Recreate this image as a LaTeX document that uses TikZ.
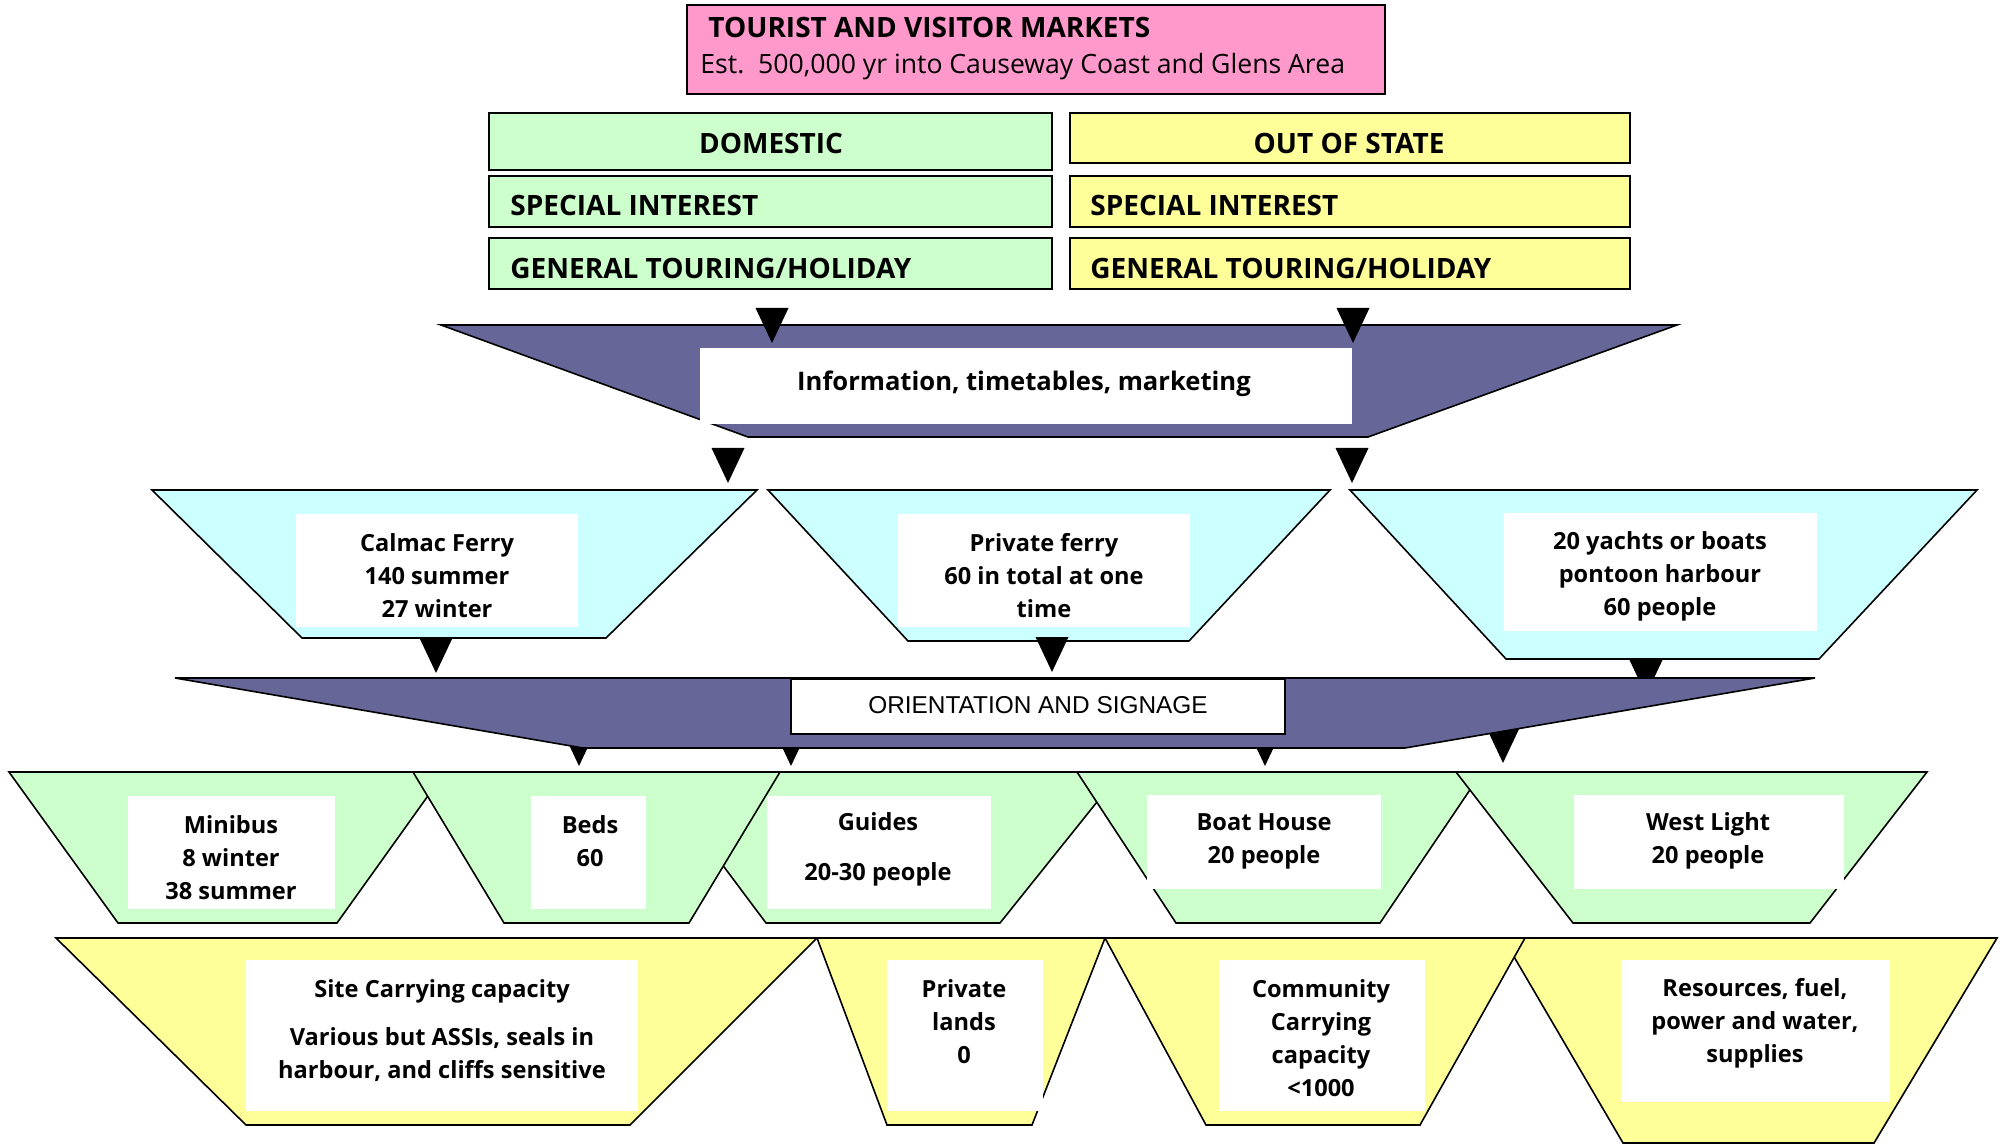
\documentclass[tikz,border=0pt]{standalone}
\usepackage{fontspec}
\setmainfont{Open Sans}
\newfontfamily\orifont{Liberation Sans}
\definecolor{pinkc}{HTML}{FF99CC}
\definecolor{greenc}{HTML}{CCFFCC}
\definecolor{yellowc}{HTML}{FFFF99}
\definecolor{cyanc}{HTML}{CCFFFF}
\definecolor{purplec}{HTML}{666699}
\newcommand\rectnode[6]{\node[#2, minimum width={(#5-#3)*0.5pt}, minimum height={(#6-#4)*0.5pt}, inner sep=0pt, outer sep=0pt] (#1) at ({(#3+#5)/2},{(#4+#6)/2}) {};}
\newcommand\tip[3]{\coordinate (#1) at (#2,#3); \fill[black] (#1) -- ++(-16.5,-35) -- ++(33,0) -- cycle;}
\begin{document}
\begin{tikzpicture}[x=0.5pt,y=-0.5pt,
 edge/.style={draw=black, line width=0.8pt, line join=miter},
 pinkbox/.style={edge, fill=pinkc},
 grnbox/.style={edge, fill=greenc},
 ylwbox/.style={edge, fill=yellowc},
 cyantrap/.style={edge, fill=cyanc},
 purtrap/.style={edge, fill=purplec},
 grntrap/.style={edge, fill=greenc},
 ylwtrap/.style={edge, fill=yellowc},
 wbox/.style={fill=white},
 obox/.style={fill=white, draw=black, line width=0.6pt},
 head/.style={font=\bfseries\fontsize{14}{17}\selectfont, inner sep=0pt},
 txt/.style={font=\bfseries\fontsize{11.8}{16.5}\selectfont, align=center, inner sep=0pt},
]
\fill[white] (0,0) rectangle (2002,1144);
\useasboundingbox (0,0) rectangle (2002,1144);

% ---- markets box
\rectnode{market}{pinkbox}{687}{5}{1385}{94}
\node[head, anchor=west] (mk1) at (708,27) {TOURIST AND VISITOR MARKETS};
\node[font=\fontsize{13.3}{16}\selectfont, inner sep=0pt, anchor=west] (mk2) at (700,67) {Est.\ \ 500,000 yr into Causeway Coast and Glens Area};

% ---- segment boxes
\rectnode{dom}{grnbox}{489}{113}{1052}{170}
\rectnode{oos}{ylwbox}{1070}{113}{1630}{163}
\rectnode{dsi}{grnbox}{489}{176}{1052}{227}
\rectnode{osi}{ylwbox}{1070}{176}{1630}{227}
\rectnode{dgt}{grnbox}{489}{238}{1052}{289}
\rectnode{ogt}{ylwbox}{1070}{238}{1630}{289}
\node[head] (domt) at (771,143) {DOMESTIC};
\node[head] (oost) at (1349,143) {OUT OF STATE};
\node[head, anchor=west] (dsit) at (510,206) {SPECIAL INTEREST};
\node[head, anchor=west] (osit) at (1090,206) {SPECIAL INTEREST};
\node[head, anchor=west] (dgtt) at (510,268) {GENERAL TOURING/HOLIDAY};
\node[head, anchor=west] (ogtt) at (1090,268) {GENERAL TOURING/HOLIDAY};

% ---- information funnel
\draw[purtrap] (441,325) -- (1677,325) -- (1368,437) -- (748,437) -- cycle;
\rectnode{info}{wbox}{700}{348}{1352}{424}
\node[txt, font=\bfseries\fontsize{12.8}{16}\selectfont] (infot) at (1024,384) {Information, timetables, marketing};
\tip{a1}{772}{343}
\tip{a2}{1353}{343}
\tip{a3}{728}{483}
\tip{a4}{1352}{483}

% ---- access funnels
\tip{a7}{1646}{695}
\draw[cyantrap] (152,490) -- (757,490) -- (606,638) -- (302,638) -- cycle;
\draw[cyantrap] (768,490) -- (1330,490) -- (1189,641) -- (908,641) -- cycle;
\draw[cyantrap] (1350,490) -- (1977,490) -- (1819,659) -- (1506,659) -- cycle;
\rectnode{calbox}{wbox}{296}{514}{578}{627}
\rectnode{pfbox}{wbox}{898}{514}{1190}{627}
\rectnode{ytbox}{wbox}{1504}{513}{1817}{631}
\node[txt] (calt) at (437,576) {Calmac Ferry\\140 summer\\27 winter};
\node[txt] (pft) at (1044,576) {Private ferry\\60 in total at one\\time};
\node[txt] (ytt) at (1660,576) {20 yachts or boats\\pontoon harbour\\60 people};

% ---- orientation funnel
\tip{a8}{579}{766}
\tip{a9}{791}{766}
\tip{a10}{1265}{766}
\tip{a11}{1503}{763}
\draw[purtrap] (175,678) -- (1815,678) -- (1405,748) -- (583,748) -- cycle;
\rectnode{orient}{obox}{791}{679}{1285}{734}
\node[font=\orifont\fontsize{12.2}{14}\selectfont, inner sep=0pt] (orientt) at (1038,705) {ORIENTATION AND SIGNAGE};
\tip{a5}{436}{673}
\tip{a6}{1052}{672}

% ---- facilities
\draw[grntrap] (9,772) -- (445,772) -- (337,923) -- (118,923) -- cycle;
\draw[grntrap] (653,772) -- (1121,772) -- (1000,923) -- (766,923) -- cycle;
\draw[grntrap] (413,772) -- (780,772) -- (689,923) -- (504,923) -- cycle;
\draw[grntrap] (1077,772) -- (1482,772) -- (1380,923) -- (1176,923) -- cycle;
\draw[grntrap] (1456,772) -- (1927,772) -- (1810,923) -- (1573,923) -- cycle;
\rectnode{minbox}{wbox}{128}{796}{335}{909}
\rectnode{bedbox}{wbox}{531}{796}{646}{909}
\rectnode{guibox}{wbox}{767}{796}{991}{909}
\rectnode{bhbox}{wbox}{1147}{795}{1381}{889}
\rectnode{wlbox}{wbox}{1574}{795}{1844}{889}
\node[txt] (mint) at (231,858) {Minibus\\8 winter\\38 summer};
\node[txt] (bedt) at (590,841) {Beds\\60};
\node[txt] (guit) at (878,849) {Guides\\[8.5pt]20-30 people};
\node[txt] (bht) at (1264,841) {Boat House\\20 people};
\node[txt] (wlt) at (1708,841) {West Light\\20 people};

% ---- capacities
\draw[ylwtrap] (56,938) -- (817,938) -- (630,1125) -- (246,1125) -- cycle;
\draw[ylwtrap] (817,938) -- (1105,938) -- (1032,1125) -- (887,1125) -- cycle;
\draw[ylwtrap] (1503,938) -- (1997,938) -- (1874,1143) -- (1623,1143) -- cycle;
\draw[ylwtrap] (1105,938) -- (1525,938) -- (1420,1125) -- (1206,1125) -- cycle;
\rectnode{sitebox}{wbox}{246}{960}{638}{1111}
\rectnode{plbox}{wbox}{887}{960}{1043}{1111}
\rectnode{combox}{wbox}{1219}{960}{1425}{1111}
\rectnode{resbox}{wbox}{1621}{960}{1890}{1102}
\node[txt] (sitet) at (442,1031) {Site Carrying capacity\\[7.5pt]Various but ASSIs, seals in\\harbour, and cliffs sensitive};
\node[txt] (plt) at (964,1022) {Private\\lands\\0};
\node[txt] (comt) at (1321,1038) {Community\\Carrying\\capacity\\<1000};
\node[txt] (rest) at (1755,1023) {Resources, fuel,\\power and water,\\supplies};
\end{tikzpicture}
\end{document}
